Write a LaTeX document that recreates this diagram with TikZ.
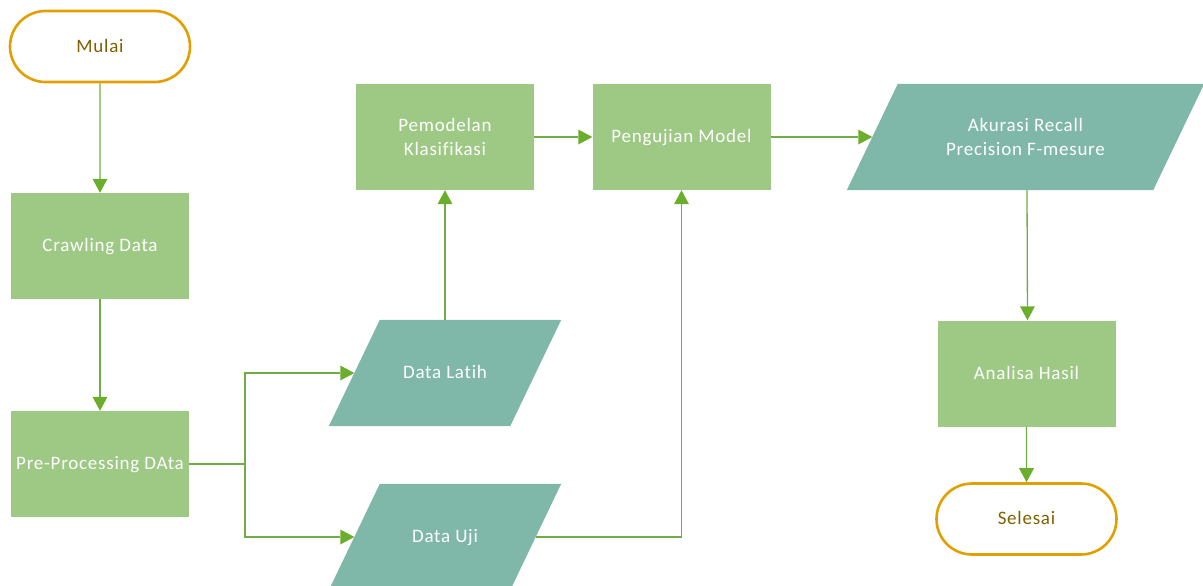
\documentclass[tikz,border=0pt]{standalone}
\usepackage{fontspec}
\setmainfont{Carlito}[LetterSpace=4, Ligatures=NoCommon]
\usetikzlibrary{arrows.meta,shapes.misc,backgrounds}

\definecolor{boxgreen}{HTML}{9DC985}
\definecolor{dataeal}{HTML}{7FB7A9}
\definecolor{linegreen}{HTML}{70AD47}
\definecolor{tipgreen}{HTML}{6AAE2C}
\definecolor{termgold}{HTML}{E2A000}
\definecolor{termtext}{HTML}{7F6000}

\tikzset{
  label font/.style={font=\fontsize{19}{24.5}\selectfont},
  oneline/.style={text height=13pt, text depth=1.5pt},
  process/.style={rectangle, fill=boxgreen, text=white, label font,
    minimum width=178pt, minimum height=106pt, inner sep=0pt, align=center},
  % the body of an input/output box; the slanted sides are added behind it
  iobox/.style={rectangle, text=white, label font, minimum height=106pt,
    inner sep=0pt, align=center},
  terminal/.style={rounded rectangle, draw=termgold, line width=2.6pt, fill=white,
    text=termtext, label font, oneline, minimum width=180pt, minimum height=71pt, inner sep=0pt},
  conn/.style={draw=linegreen, line width=1.3pt,
    -{Triangle[length=14pt,width=15pt,color=tipgreen,fill=tipgreen,line width=0pt]}},
  plain/.style={draw=linegreen, line width=1.3pt}
}
% slant of the input/output boxes
\def\slant{51}
\newcommand\iofill[1]{%
  \fill[dataeal] (#1.north west) -- ([xshift=\slant pt]#1.north east)
    -- (#1.south east) -- ([xshift=-\slant pt]#1.south west) -- cycle;}

\begin{document}
\begin{tikzpicture}[x=1pt,y=-1pt]
  \useasboundingbox (0,0) rectangle (1203,586);
  \clip (0,0) rectangle (1203,586);

  % start / end
  \node[terminal] (mulai) at (100,46.5) {Mulai};
  \node[terminal] (selesai) at (1026.5,519) {Selesai};

  % processing steps
  \node[process, oneline] (crawl) at (100,246) {Crawling Data};
  \node[process, oneline] (prep) at (100,464) {Pre-Processing DAta};
  \node[process] (pemodelan) at (445,137) {Pemodelan\\Klasifikasi};
  \node[process, oneline] (uji model) at (681.5,137) {Pengujian Model};
  \node[process, oneline] (analisa) at (1026.5,373.5) {Analisa Hasil};

  % data (input/output)
  \node[iobox, oneline, minimum width=130pt] (latih) at (445,373) {Data Latih};
  \node[iobox, oneline, minimum width=130pt] (ujidata) at (445,537) {Data Uji};
  \node[iobox, minimum width=255pt] (akurasi) at (1025.5,137) {Akurasi Recall\\Precision F-mesure};
  \begin{scope}[on background layer]
    \iofill{latih}
    \iofill{ujidata}
    \iofill{akurasi}
  \end{scope}

  % flow
  \coordinate (split) at (245,464);
  \draw[conn] (mulai) -- (crawl);
  \draw[conn] (crawl) -- (prep);
  \draw[plain] (prep.east) -- (split);
  \draw[conn] (split) |- ([xshift=-25.5pt]latih.west);
  \draw[conn] (split) |- ([xshift=-25.5pt]ujidata.west);
  \draw[conn] (latih.north) -- (pemodelan.south);
  \draw[conn] (pemodelan) -- (uji model);
  \draw[conn] ([xshift=25.5pt]ujidata.east) -| (uji model.south);
  \draw[conn] (uji model) -- ([xshift=-25.5pt]akurasi.west);
  \draw[conn] ([xshift=1.5pt]akurasi.south) -- ([xshift=1pt]analisa.north);
  \draw[conn] (analisa) -- (selesai);
\end{tikzpicture}
\end{document}
